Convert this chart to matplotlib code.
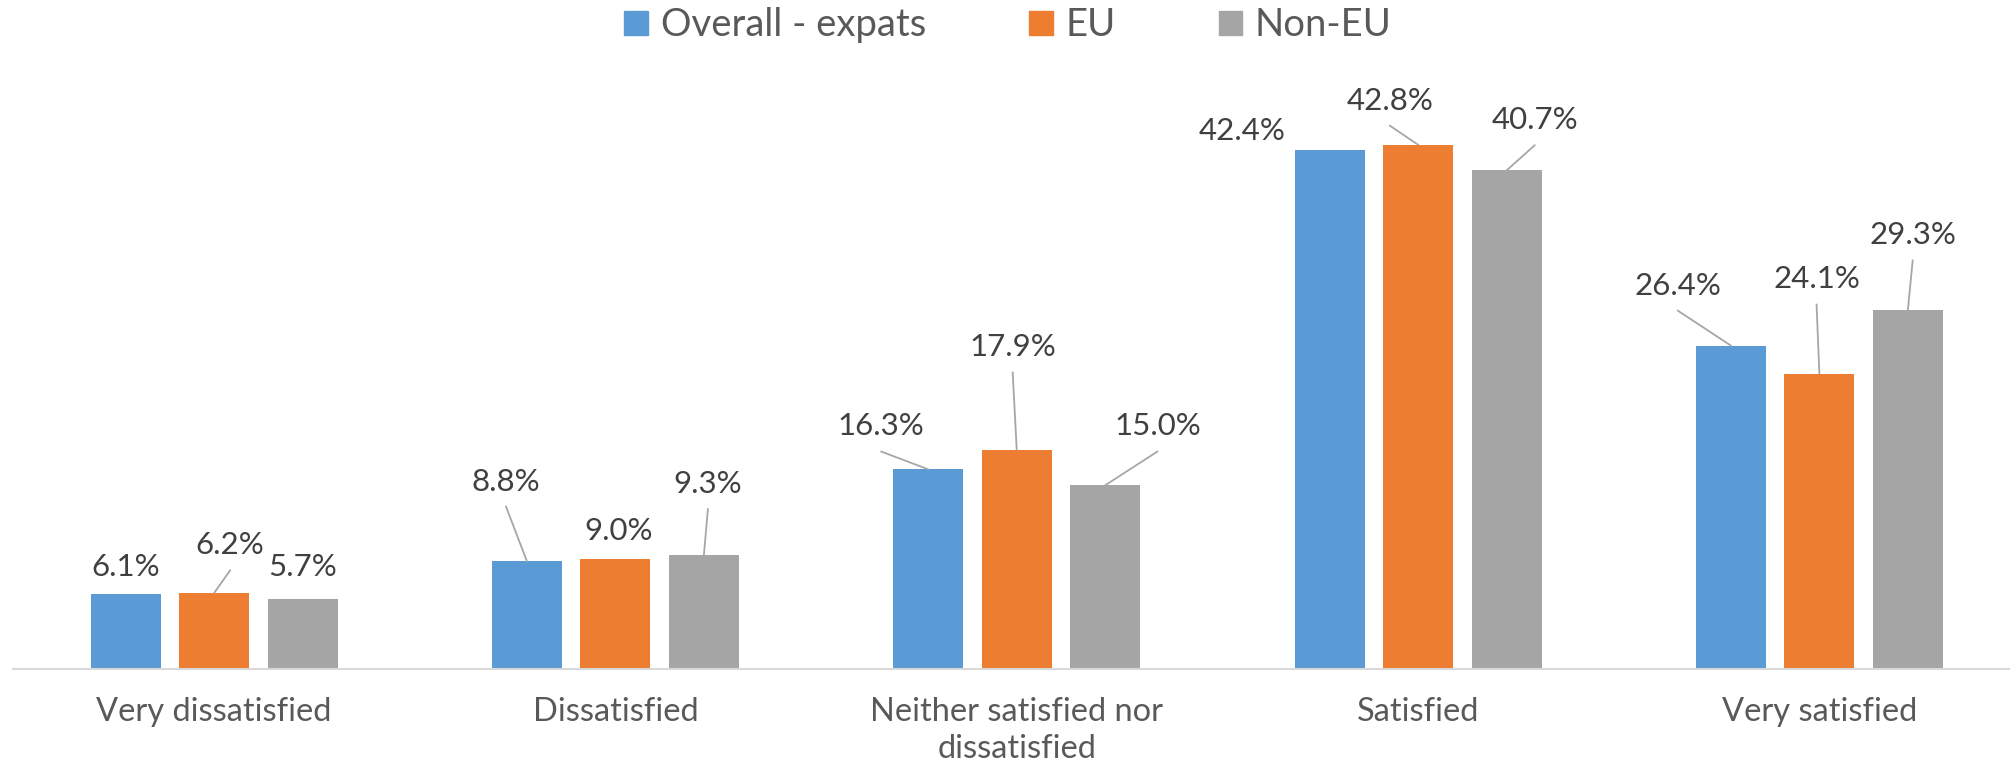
import matplotlib
matplotlib.use("Agg")
import matplotlib.pyplot as plt
from matplotlib.patches import Patch
import numpy as np

plt.rcParams['font.family'] = ['Lato', 'DejaVu Sans']

categories = ["Very dissatisfied", "Dissatisfied", "Neither satisfied nor\ndissatisfied",
              "Satisfied", "Very satisfied"]
series_names = ["Overall - expats", "EU", "Non-EU"]
overall = [6.1, 8.8, 16.3, 42.4, 26.4]
eu = [6.2, 9.0, 17.9, 42.8, 24.1]
non_eu = [5.7, 9.3, 15.0, 40.7, 29.3]

colors = ["#5B9BD5", "#ED7D31", "#A5A5A5"]
text_col = "#404040"
axis_text_col = "#595959"

# label offsets from bar top (dx in category units, dy in %), and whether a leader line is drawn
label_dx = [[0.0, -0.052, -0.117, -0.219, -0.132],
            [0.04, 0.007, -0.01, -0.07, -0.007],
            [0.0, 0.01, 0.13, 0.07, 0.012]]
label_dy = [[2.2, 6.5, 3.5, 1.5, 4.9],
            [3.9, 2.3, 8.35, 3.6, 7.7],
            [2.6, 5.8, 4.8, 4.1, 6.1]]
leader = [[False, True, True, False, True],
          [True, False, True, True, True],
          [False, True, True, True, True]]

fig = plt.figure(figsize=(20.1, 7.71), dpi=100)
ax = fig.add_axes([0.00667, 0.1323, 1 - 0.00667, 0.7626])

x = np.arange(len(categories))
pitch = 0.2205
width = 0.1744
values = [overall, eu, non_eu]
for i, vals in enumerate(values):
    xs = x + (i - 1) * pitch
    ax.bar(xs, vals, width, color=colors[i], label=series_names[i], zorder=2)
    for j, v in enumerate(vals):
        tx = xs[j] + label_dx[i][j]
        ty = v + label_dy[i][j]
        ax.text(tx, ty, "{:.1f}%".format(v), ha="center", va="center",
                fontsize=22.5, color=text_col)
        if leader[i][j]:
            ax.plot([tx, xs[j]], [ty - 2.05, v], color="#A6A6A6", lw=1.3, zorder=3)

ax.set_xlim(-0.5, 4.475)
ax.set_ylim(0, 48)
ax.set_xticks(x)
ax.set_xticklabels(categories, fontsize=23.5, color=axis_text_col, linespacing=1.3)
ax.tick_params(axis="x", length=0, pad=20)
ax.set_yticks([])
for s in ["top", "right", "left"]:
    ax.spines[s].set_visible(False)
ax.spines["bottom"].set_color("#D9D9D9")
ax.spines["bottom"].set_linewidth(1.5)

handles = [Patch(color=c) for c in colors]
fig.legend(handles, series_names, loc="center", bbox_to_anchor=(0.5015, 0.967), ncol=3,
           frameon=False, fontsize=27.5, handlelength=0.62, handleheight=0.62,
           handletextpad=0.33, columnspacing=2.7, labelcolor=axis_text_col)

fig.savefig("out.png", dpi=100)
